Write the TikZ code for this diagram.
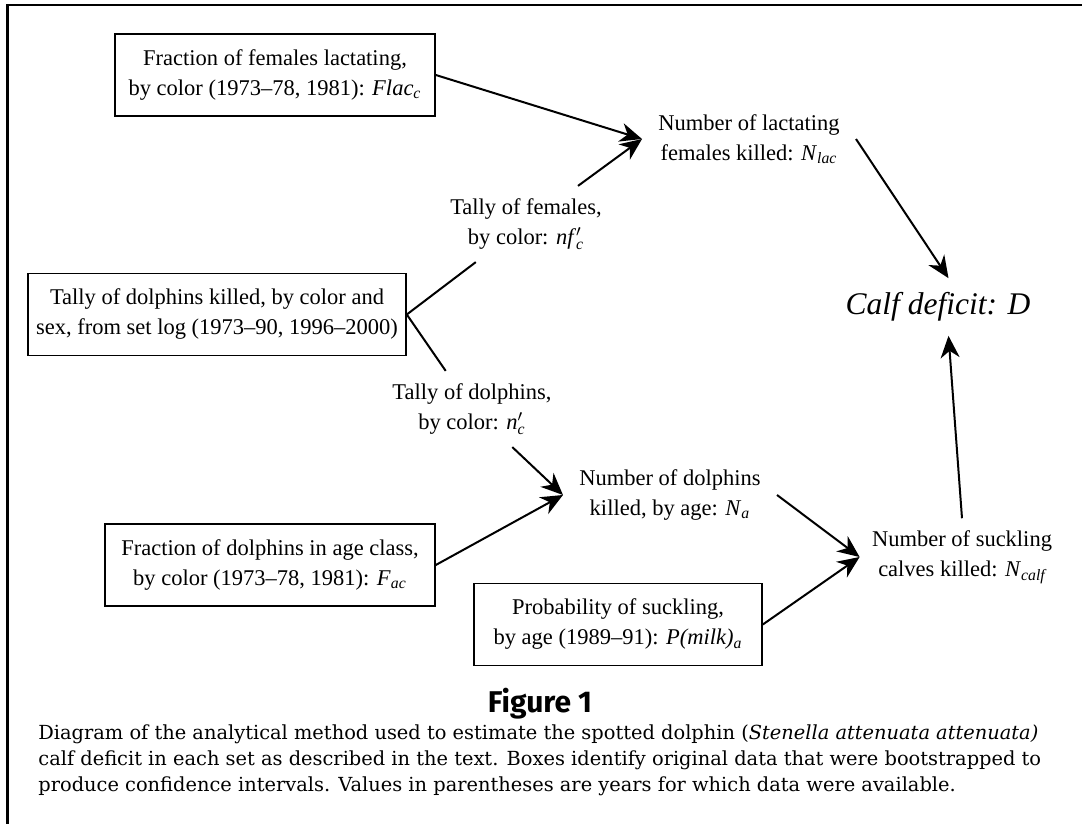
\documentclass[tikz,border=0pt]{standalone}
\usepackage{amsmath}
\usepackage{fontspec}
\setmainfont{Liberation Serif}
\newfontfamily\capfont{DejaVu Serif}
\newfontfamily\figfont{Fira Sans}
\usetikzlibrary{arrows.meta}
\newcommand{\isub}[1]{\textsubscript{\itshape #1}}
\tikzset{bx/.style = {draw, line width=0.8pt, align=center, inner xsep=0pt, minimum height=41pt},
         lb/.style = {align=center, inner sep=6pt},
         ln/.style = {line width=1pt}}

\begin{document}
\begin{tikzpicture}[x=0.5pt, y=-0.5pt, >={Stealth[length=11pt, width=9.5pt, inset=3.5pt]},
                    font=\fontsize{11.25}{15}\selectfont]
    \useasboundingbox (0,0) rectangle (1082,824);
    \draw[line width=1.3pt] (1082,5) -- (7.5,5) -- (7.5,824);
    % data boxes
    \node[bx, minimum width=160pt] (fl) at (275,75) {Fraction of females lactating,\\ by color (1973--78, 1981): \textit{Flac}\isub{c}};
    \node[bx, minimum width=189pt] (tl) at (217,314.5) {Tally of dolphins killed, by color and\\ sex, from set log (1973--90, 1996--2000)};
    \node[bx, minimum width=165pt] (fa) at (270,565) {Fraction of dolphins in age class,\\ by color (1973--78, 1981): \textit{F}\isub{ac}};
    \node[bx, minimum width=144pt] (pm) at (618,624.5) {Probability of suckling,\\ by age (1989--91): \textit{P(milk)}\isub{a}};
    % derived quantities
    \node[lb] (tf) at (526,224) {Tally of females,\\ by color: \textit{nf}$'_{\textit{c}}$};
    \node[lb] (tn) at (472,409) {Tally of dolphins,\\ by color: \textit{n}$'_{\textit{c}}$};
    \node[lb, inner xsep=8pt] (nl) at (749,139) {Number of lactating\\ females killed: \textit{N}\isub{lac}};
    \node[lb, inner xsep=8pt] (na) at (670,495) {Number of dolphins\\ killed, by age: \textit{N}\isub{a}};
    \node[lb, inner xsep=6pt] (nc) at (962,557) {Number of suckling\\ calves killed: \textit{N}\isub{calf}};
    \node[lb, inner sep=7pt, font=\fontsize{15.75}{19}\selectfont\itshape] (cd) at (938,307) {Calf deficit: D};
    % connectors
    \draw[ln, ->] (fl.east) -- (nl.west);
    \draw[ln] (tl.east) -- (tf);
    \draw[ln, ->] (tf) -- (nl.west);
    \draw[ln] (tl.east) -- (tn);
    \draw[ln, ->] (tn) -- (na.west);
    \draw[ln, ->] (fa.east) -- (na.west);
    \draw[ln, ->] (na.east) -- (nc.west);
    \draw[ln, ->] (pm.east) -- (nc.west);
    \draw[ln, ->] (nl.east) -- (cd.70);
    \draw[ln, ->] (nc.north) -- (cd.-70);
    % caption
    \node[font=\figfont\bfseries\fontsize{15}{17}\selectfont, anchor=base] (fig) at (540,712) {Figure 1};
    \node[font=\capfont\fontsize{9.7}{13.2}\selectfont, align=left, anchor=north west, inner sep=0pt] (cap) at (38,724)
        {Diagram of the analytical method used to estimate the spotted dolphin (\textit{Stenella attenuata attenuata)}\\
         calf deficit in each set as described in the text. Boxes identify original data that were bootstrapped to\\
         produce confidence intervals. Values in parentheses are years for which data were available.};
\end{tikzpicture}
\end{document}
